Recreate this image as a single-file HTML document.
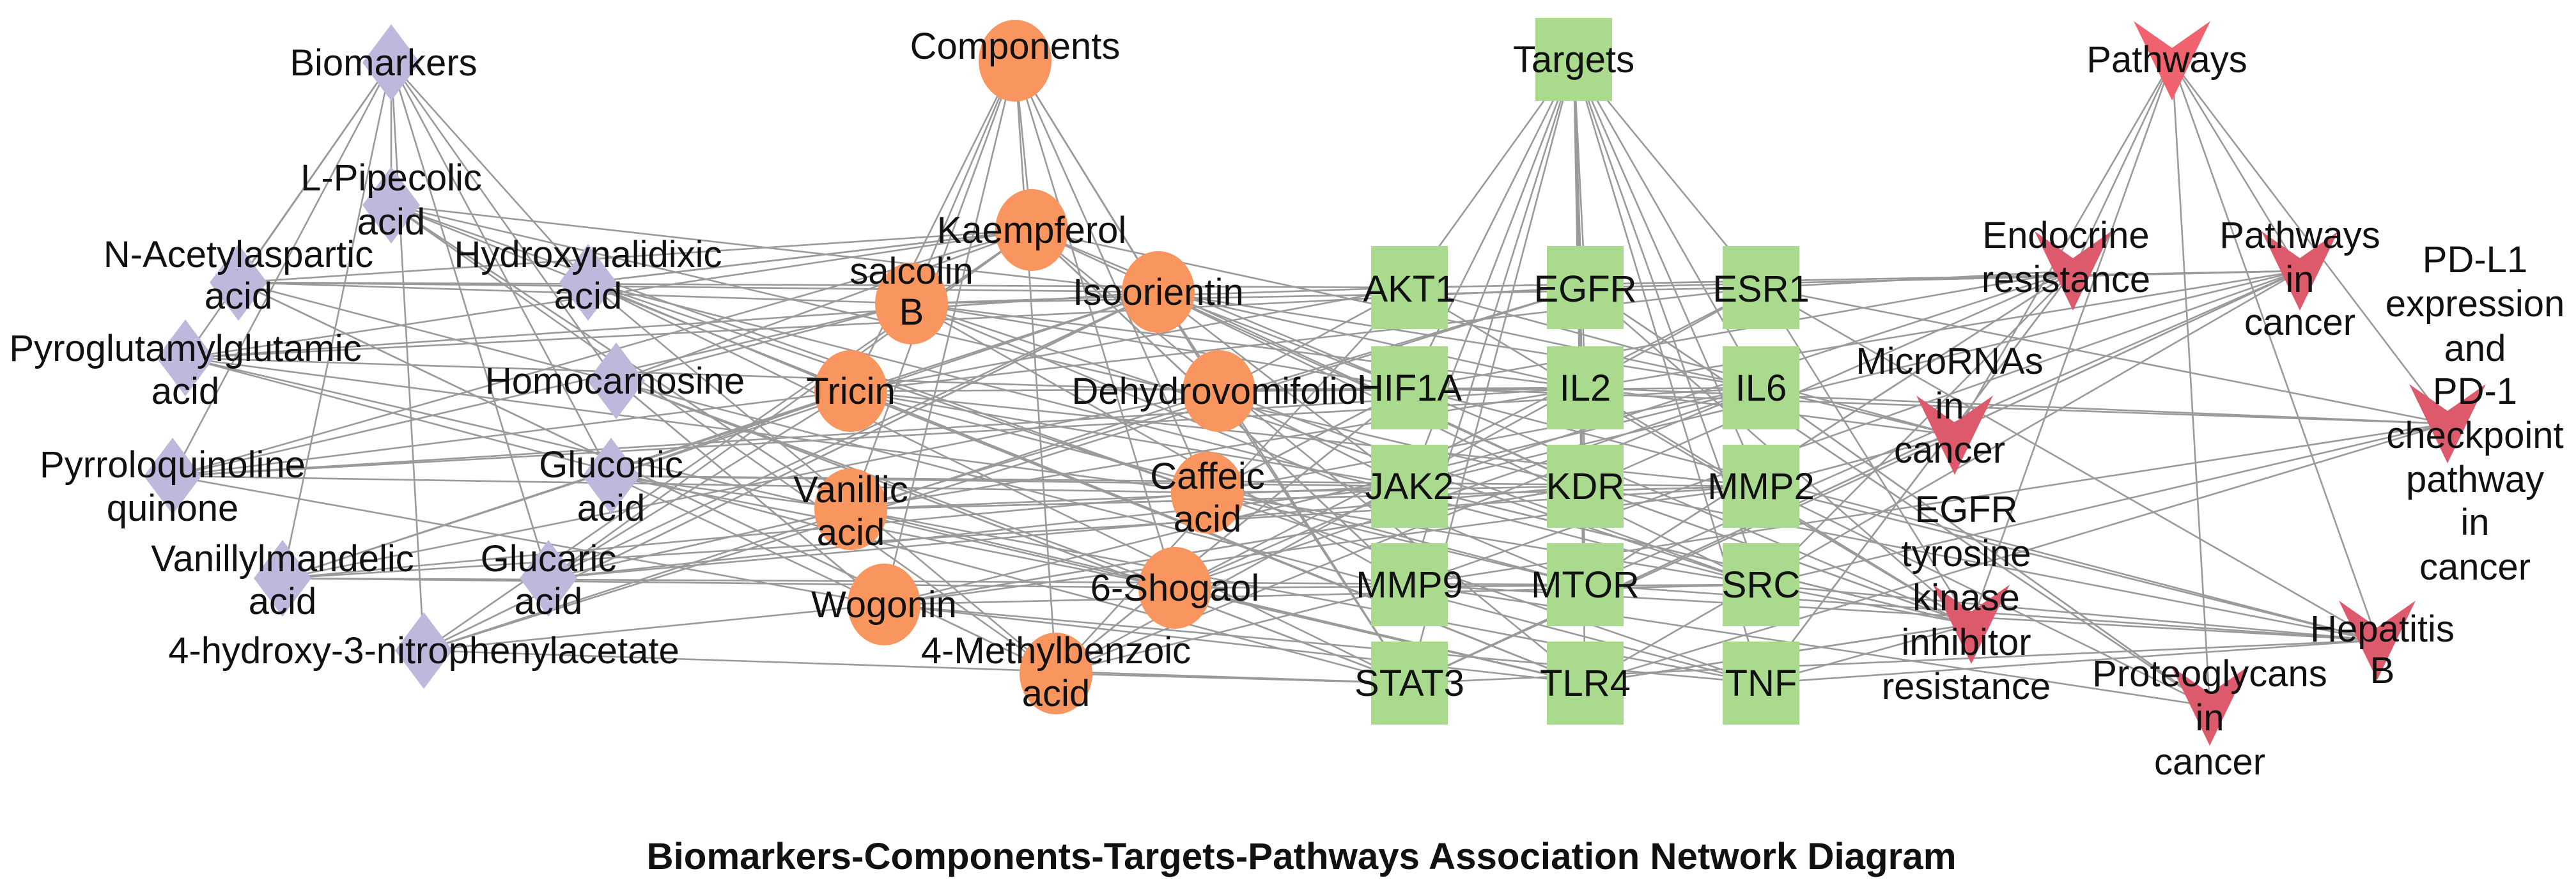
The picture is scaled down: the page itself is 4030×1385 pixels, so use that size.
<!DOCTYPE html>
<html><head><meta charset="utf-8">
<style>
html,body{margin:0;padding:0;background:#fff;}
svg{display:block;}
text{font-family:"Liberation Sans",Arial,sans-serif;font-size:58px;fill:#111;text-anchor:middle;}
</style></head>
<body>
<svg id="s" width="4030" height="1385" viewBox="0 0 4030 1385" xmlns="http://www.w3.org/2000/svg">
<g id="edges" stroke="#9a9a9a" stroke-width="2.6" fill="none"></g>
<g id="nodes"></g>
<g id="labels">
<text x="600" y="118">Biomarkers</text>
<text x="612" y="298">L-Pipecolic</text><text x="612" y="367">acid</text>
<text x="373" y="418">N-Acetylaspartic</text><text x="373" y="483">acid</text>
<text x="920" y="418">Hydroxynalidixic</text><text x="920" y="483">acid</text>
<text x="290" y="565">Pyroglutamylglutamic</text><text x="290" y="632">acid</text>
<text x="962" y="616">Homocarnosine</text>
<text x="270" y="747">Pyrroloquinoline</text><text x="270" y="815">quinone</text>
<text x="956" y="747">Gluconic</text><text x="956" y="815">acid</text>
<text x="442" y="894">Vanillylmandelic</text><text x="442" y="961">acid</text>
<text x="858" y="894">Glucaric</text><text x="858" y="961">acid</text>
<text x="663" y="1038">4-hydroxy-3-nitrophenylacetate</text>
<text x="1588" y="92">Components</text>
<text x="1614" y="380">Kaempferol</text>
<text x="1426" y="444">salcolin</text><text x="1426" y="508">B</text>
<text x="1812" y="477">Isoorientin</text>
<text x="1331" y="632">Tricin</text>
<text x="1907" y="632">Dehydrovomifoliol</text>
<text x="1331" y="786">Vanillic</text><text x="1331" y="853">acid</text>
<text x="1889" y="765">Caffeic</text><text x="1889" y="832">acid</text>
<text x="1383" y="966">Wogonin</text>
<text x="1838" y="940">6-Shogaol</text>
<text x="1652" y="1038">4-Methylbenzoic</text><text x="1652" y="1105">acid</text>
<text x="2462" y="113">Targets</text>
<text x="2205" y="472">AKT1</text><text x="2480" y="472">EGFR</text><text x="2755" y="472">ESR1</text>
<text x="2205" y="627">HIF1A</text><text x="2480" y="627">IL2</text><text x="2755" y="627">IL6</text>
<text x="2205" y="781">JAK2</text><text x="2480" y="781">KDR</text><text x="2755" y="781">MMP2</text>
<text x="2205" y="935">MMP9</text><text x="2480" y="935">MTOR</text><text x="2755" y="935">SRC</text>
<text x="2205" y="1089">STAT3</text><text x="2480" y="1089">TLR4</text><text x="2755" y="1089">TNF</text>
<text x="3390" y="113">Pathways</text>
<text x="3232" y="388">Endocrine</text><text x="3232" y="457">resistance</text>
<text x="3598" y="388">Pathways</text><text x="3598" y="457">in</text><text x="3598" y="524">cancer</text>
<text x="3872" y="426">PD-L1</text><text x="3872" y="495">expression</text><text x="3872" y="565">and</text><text x="3872" y="632">PD-1</text><text x="3872" y="701">checkpoint</text><text x="3872" y="770">pathway</text><text x="3872" y="837">in</text><text x="3872" y="907">cancer</text>
<text x="3050" y="585">MicroRNAs</text><text x="3050" y="655">in</text><text x="3050" y="724">cancer</text>
<text x="3076" y="817">EGFR</text><text x="3076" y="886">tyrosine</text><text x="3076" y="955">kinase</text><text x="3076" y="1025">inhibitor</text><text x="3076" y="1094">resistance</text>
<text x="3727" y="1004">Hepatitis</text><text x="3727" y="1069">B</text>
<text x="3457" y="1074">Proteoglycans</text><text x="3457" y="1143">in</text><text x="3457" y="1212">cancer</text>
<text x="2036" y="1360" style="font-weight:bold;font-size:58px" textLength="2049" lengthAdjust="spacingAndGlyphs">Biomarkers-Components-Targets-Pathways Association Network Diagram</text>
</g>
</svg>
<script>
(function(){
var NS="http://www.w3.org/2000/svg";
var B=[[612,98],[612,321],[373,442],[920,442],[290,560],[964,596],[270,745],[956,745],[442,905],[858,905],[663,1018]];
var C=[[1588,95],[1614,360],[1426,475],[1812,457],[1331,612],[1907,612],[1331,797],[1889,771],[1383,946],[1838,920],[1652,1054]];
var T=[[2462,93]];var cols=[2205,2480,2755],rows=[450,607,761,915,1069];
rows.forEach(function(r){cols.forEach(function(c){T.push([c,r]);});});
var P=[[3398,95],[3243,424],[3598,424],[3829,663],[3058,681],[3084,977],[3719,1002],[3457,1105]];
var E=document.getElementById("edges"),N=document.getElementById("nodes");
function line(a,b){var l=document.createElementNS(NS,"line");l.setAttribute("x1",a[0]);l.setAttribute("y1",a[1]);l.setAttribute("x2",b[0]);l.setAttribute("y2",b[1]);E.appendChild(l);}
var seed=7;function rnd(){seed=(seed*1103515245+12345)%2147483648;return seed/2147483648;}
[B,C,T,P].forEach(function(g){for(var i=1;i<g.length;i++)line(g[0],g[i]);});
for(var i=1;i<B.length;i++){for(var k=0;k<5;k++){line(B[i],C[1+Math.floor(rnd()*10)]);}
 for(var k=0;k<2;k++){line(B[i],T[1+Math.floor(rnd()*15)]);}}
for(var i=1;i<C.length;i++){for(var k=0;k<7;k++){line(C[i],T[1+Math.floor(rnd()*15)]);}}
for(var i=1;i<T.length;i++){for(var k=0;k<4;k++){line(T[i],P[1+Math.floor(rnd()*7)]);}}
function el(n,attrs){var e=document.createElementNS(NS,n);for(var a in attrs)e.setAttribute(a,attrs[a]);N.appendChild(e);}
B.forEach(function(p){el("polygon",{points:(p[0])+","+(p[1]-60)+" "+(p[0]+45)+","+p[1]+" "+p[0]+","+(p[1]+60)+" "+(p[0]-45)+","+p[1],fill:"#bcb9dc"});});
C.forEach(function(p){el("ellipse",{cx:p[0],cy:p[1],rx:57,ry:64,fill:"#f9955f"});});
T.forEach(function(p,i){el("rect",{x:p[0]-60,y:p[1]-65,width:120,height:130,fill:"#a9da8d"});});
P.forEach(function(p,i){var x=p[0],y=p[1],w=60,h=62;el("polygon",{points:(x-w)+","+(y-h)+" "+x+","+(y-h+42)+" "+(x+w)+","+(y-h)+" "+x+","+(y+h),fill:(i==0?"#f0636e":"#dc5a6b")});});
})();
</script>
</body></html>
